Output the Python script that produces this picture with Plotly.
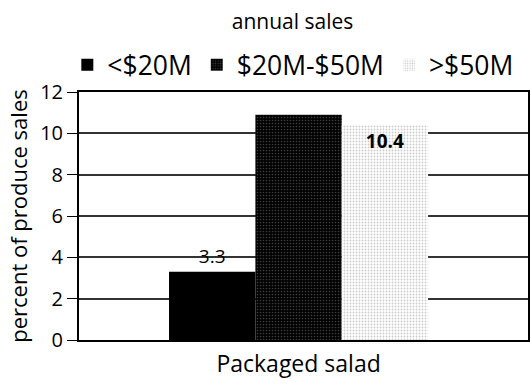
import plotly.graph_objects as go

categories = ["Packaged salad"]
series_names = ["<$20M", "$20M-$50M", ">$50M"]
values = [[3.3], [10.9], [10.4]]
labels = ["3.3", "", "10.4"]
y_ticks = [0, 2, 4, 6, 8, 10, 12]

styles = [
    dict(color="black", pattern=dict(shape="")),
    dict(color="black", pattern=dict(shape=".", fgcolor="#777", bgcolor="black", size=3, solidity=0.25)),
    dict(color="white", pattern=dict(shape=".", fgcolor="#999", bgcolor="white", size=3, solidity=0.3)),
]
text_pos = ["outside", "none", "inside"]
text_weight = ["normal", "normal", "bold"]
text_size = [19, 19, 19]

fig = go.Figure()
for i, name in enumerate(series_names):
    fig.add_trace(go.Bar(
        x=categories, y=values[i], name=name,
        marker=dict(color=styles[i]["color"], pattern=styles[i]["pattern"], line=dict(width=0)),
        text=[labels[i]],
        textposition=text_pos[i],
        insidetextanchor="end",
        textfont=dict(size=text_size[i], color="black", family="Open Sans", weight=text_weight[i]),
        outsidetextfont=dict(size=text_size[i], color="black", family="Open Sans"),
        insidetextfont=dict(size=text_size[i], color="black", family="Open Sans", weight=text_weight[i]),
        constraintext="none",
        cliponaxis=False,
    ))

fig.update_layout(
    width=530, height=385,
    barmode="group", bargap=0.423, bargroupgap=0,
    plot_bgcolor="white", paper_bgcolor="white",
    font=dict(family="Open Sans", size=17, color="black"),
    margin=dict(l=79, r=2, t=92, b=45, autoexpand=False),
    title=dict(text="annual sales", x=0.552, xanchor="center", y=0.943, yanchor="middle",
               font=dict(size=21)),
    legend=dict(orientation="h", x=-0.026, xanchor="left", y=1.109, yanchor="middle",
                font=dict(size=26.5), traceorder="normal", itemwidth=30),
    showlegend=True,
    uniformtext=dict(mode=False),
)
fig.update_xaxes(showline=True, linecolor="black", linewidth=2, mirror=True,
                 range=[-0.489, 0.511],
                 ticks="", tickfont=dict(size=23), showgrid=False, automargin=False,
                 ticklabelstandoff=2)
fig.update_yaxes(range=[0, 12], tickvals=y_ticks, showline=True, linecolor="black", linewidth=2,
                 mirror=True, ticks="outside", ticklen=10, tickcolor="black",
                 showgrid=True, gridcolor="#333", gridwidth=1.6, automargin=False,
                 title=dict(text="percent of produce sales", font=dict(size=22), standoff=6),
                 tickfont=dict(size=20), zeroline=False)

fig.write_html("out.html",
               config={"displayModeBar": False},
               post_script="document.body.style.margin='0';document.body.style.overflow='hidden';")
